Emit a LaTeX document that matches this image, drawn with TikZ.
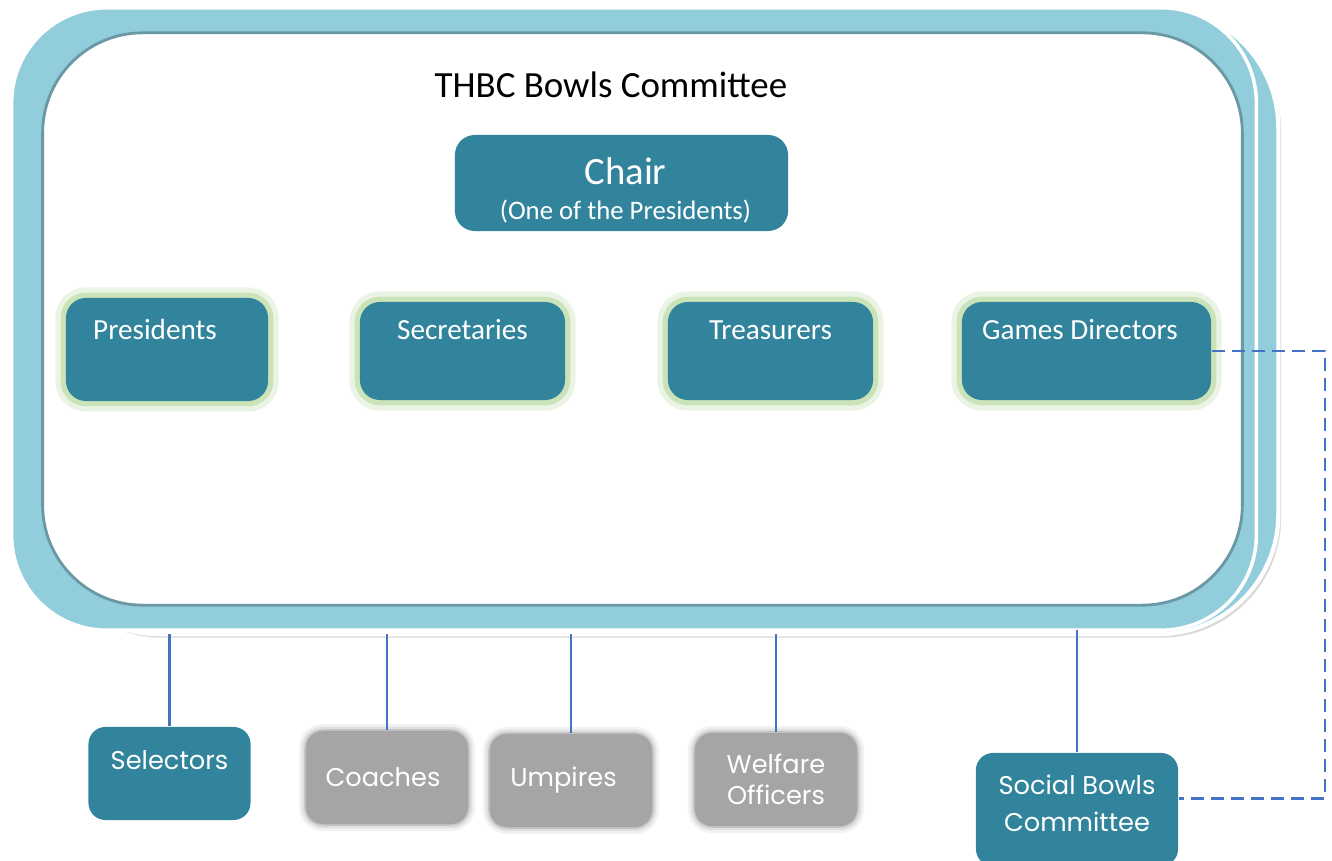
\documentclass[tikz,border=0pt]{standalone}
\usepackage{fontspec}
\setmainfont{Carlito}
\newfontfamily\gothic{Poppins}
\usetikzlibrary{shadows}
\definecolor{paleblue}{HTML}{92CDDC}
\definecolor{frameshade}{HTML}{6A98A4}
\definecolor{tealbox}{HTML}{31849B}
\definecolor{boxgrey}{HTML}{A5A5A5}
\definecolor{glowgreen}{HTML}{BEDCA6}
\definecolor{linkblue}{HTML}{4472C4}

\begin{document}
\begin{tikzpicture}[x=0.01cm,y=-0.01cm]
	\tikzstyle{backframe} = [rectangle,rounded corners=1.2cm,fill=paleblue,draw=white,line width=1.2pt,inner sep=0,outer sep=0,drop shadow={shadow xshift=0.8pt,shadow yshift=-1pt,opacity=.3}]
	\tikzstyle{frontframe} = [rectangle,rounded corners=0.95cm,fill=paleblue,draw=white,line width=1pt,inner sep=0,outer sep=0]
	\tikzstyle{innerframe} = [rectangle,rounded corners=1cm,fill=white,draw=frameshade,line width=0.8pt,inner sep=0,outer sep=0]
	\tikzstyle{role} = [rectangle,rounded corners=0.2cm,fill=tealbox,text=white,inner xsep=0,inner ysep=0,font=\fontsize{8.3}{10}\selectfont,text height=0.38cm,text depth=0.60cm,preaction={draw=glowgreen,line width=6pt,opacity=.3},preaction={draw=glowgreen,line width=3pt,opacity=.7}]
	\tikzstyle{sub} = [rectangle,rounded corners=0.17cm,fill=tealbox,text=white,inner sep=0,align=center,minimum width=1.62cm,minimum height=0.93cm,font=\gothic\fontsize{7.3}{10.5}\selectfont]
	\tikzstyle{subgrey} = [sub,fill=boxgrey,preaction={draw=black,line width=4pt,opacity=.05},preaction={draw=black,line width=2.4pt,opacity=.08},preaction={draw=black,line width=1pt,opacity=.12}]
	\tikzstyle{edge} = [-,draw=linkblue,line width=0.6pt]
	\tikzstyle{edge2} = [-,draw=linkblue,line width=0.6pt,dash pattern=on 3.7pt off 2pt]
	\useasboundingbox (0,0) rectangle (1332,861);
	\node[backframe,minimum width=12.38cm,minimum height=6.26cm] (frameback) at (659,321) {};
	\node[frontframe,minimum width=12.44cm,minimum height=6.22cm] (frame) at (634,319) {};
	\node[innerframe,minimum width=11.99cm,minimum height=5.72cm] (framein) at (642.5,319) {};
	\node[font=\fontsize{10.5}{12}\selectfont] (title) at (611,85) {THBC Bowls Committee};
	\node[rectangle,rounded corners=0.2cm,fill=tealbox,text=white,align=center,inner sep=0,minimum width=3.33cm,minimum height=0.96cm] (chair) at (621.5,183) {\hspace{0.08cm}\mbox{}{\fontsize{11}{13}\selectfont Chair}\rule{0pt}{0.42cm}\\[-2pt]\hspace{0.08cm}\mbox{}{\fontsize{7.6}{9}\selectfont (One of the Presidents)}};
	\node[role,minimum width=2.02cm,text height=0.42cm,text depth=0.61cm] (pres) at (167,349.5) {Presidents\hspace{0.24cm}\mbox{}};
	\node[role,minimum width=2.05cm] (sec) at (462.5,351) {Secretaries};
	\node[role,minimum width=2.05cm] (treas) at (770.5,351) {Treasurers};
	\node[role,minimum width=2.49cm] (games) at (1086.5,351) {Games Directors\hspace{0.13cm}\mbox{}};
	\node[sub,text height=0.43cm,text depth=0.50cm] (sel) at (169.5,773.5) {Selectors};
	\node[subgrey] (coach) at (387,777.5) {Coaches\hspace{0.08cm}\mbox{}};
	\node[subgrey] (ump) at (571,780.5) {Umpires\hspace{0.15cm}\mbox{}};
	\node[subgrey] (welf) at (776,779.5) {Welfare\\[-1.7pt]Officers};
	\node[sub,minimum width=2.02cm,minimum height=1.13cm] (social) at (1077,809.5) {Social Bowls\\Committee\rule[-0.12cm]{0pt}{0.1pt}};
	\coordinate (rail) at (1325,352);
	
	\draw[edge] (sel.north)--(sel.north |- frameback.south);
	\draw[edge] (coach.north)--(coach.north |- frameback.south);
	\draw[edge] (ump.north)--(ump.north |- frameback.south);
	\draw[edge] (welf.north)--(welf.north |- frameback.south);
	\draw[edge] (social.north)--(social.north |- frame.south);
	\draw[edge2] (games.east) -| ([yshift=0.11cm]social.east -| rail) -- ([yshift=0.11cm]social.east);
\end{tikzpicture}
\end{document}
